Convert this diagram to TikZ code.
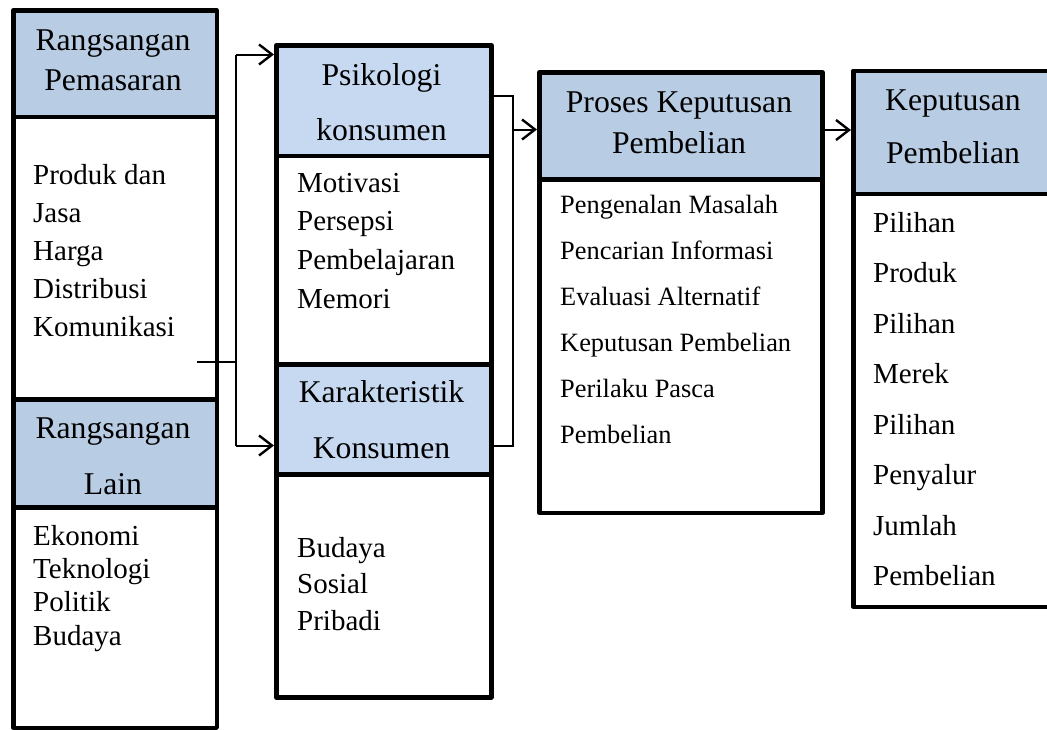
\documentclass[tikz,border=0pt]{standalone}
\usepackage{fontspec}
\setmainfont{Liberation Serif}
\usetikzlibrary{arrows.meta}
\definecolor{hdrA}{HTML}{B8CCE4}
\definecolor{hdrB}{HTML}{C6D9F1}
\begin{document}
\begin{tikzpicture}[x=1pt,y=-1pt,
  boxline/.style={draw=black,line width=4.5pt,line join=round,inner sep=0pt,anchor=north west},
  hdrbox/.style={boxline,fill=hdrA},
  hdrboxlight/.style={boxline,fill=hdrB},
  bodybox/.style={boxline,fill=white},
  conn/.style={draw=black,line width=2pt},
  arr/.style={-{Straight Barb[length=13pt,width=20pt,line width=2.4pt]}},
  htxt/.style={inner sep=0pt,anchor=base,font=\fontsize{31.7}{38}\selectfont},
  btxt/.style={inner sep=0pt,anchor=base west,align=left}
]
\useasboundingbox (0,0) rectangle (1047,729);
\clip (0,0) rectangle (1047,729);

% column 1
\node[bodybox,minimum width=203.5pt,minimum height=282.5pt] (rpB) at (11,114.5) {};
\node[hdrbox,minimum width=203.5pt,minimum height=106.5pt] (rpH) at (11,8) {};
\node[bodybox,minimum width=203.5pt,minimum height=220.5pt] (rlB) at (11,505) {};
\node[hdrbox,minimum width=203.5pt,minimum height=108pt] (rlH) at (11,397) {};

% column 2
\node[bodybox,minimum width=215pt,minimum height=208.5pt] (psB) at (274,153.5) {};
\node[hdrboxlight,minimum width=215pt,minimum height=110.5pt] (psH) at (274,43) {};
\node[bodybox,minimum width=215pt,minimum height=223pt] (kkB) at (274,472) {};
\node[hdrboxlight,minimum width=215pt,minimum height=110pt] (kkH) at (274,362) {};

% column 3
\node[bodybox,minimum width=283pt,minimum height=333.5pt] (pkB) at (537,177) {};
\node[hdrbox,minimum width=283pt,minimum height=107pt] (pkH) at (537,70) {};

% column 4
\node[bodybox,minimum width=209pt,minimum height=413pt] (kpB) at (851,191.5) {};
\node[hdrbox,minimum width=209pt,minimum height=123pt] (kpH) at (851,68.5) {};

% header texts
\node[htxt] (t1a) at (113,50) {Rangsangan};
\node[htxt] (t1b) at (113,90) {Pemasaran};
\node[htxt] (t2a) at (113,438) {Rangsangan};
\node[htxt] (t2b) at (113,494) {Lain};
\node[htxt] (t3a) at (381.5,85) {Psikologi};
\node[htxt] (t3b) at (381.5,140) {konsumen};
\node[htxt] (t4a) at (381.5,402) {Karakteristik};
\node[htxt] (t4b) at (381.5,458) {Konsumen};
\node[htxt] (t5a) at (679,112) {Proses Keputusan};
\node[htxt] (t5b) at (679,153) {Pembelian};
\node[htxt] (t6a) at (953,110) {Keputusan};
\node[htxt] (t6b) at (953,163) {Pembelian};

% body texts (anchored at the baseline of the last line)
\node[btxt,font=\fontsize{29}{38}\selectfont] (b1) at (33,336)
  {Produk dan\\Jasa\\Harga\\Distribusi\\Komunikasi};
\node[btxt,font=\fontsize{29}{33.3}\selectfont] (b2) at (33,645)
  {Ekonomi\\Teknologi\\Politik\\Budaya};
\node[btxt,font=\fontsize{29}{38.6}\selectfont] (b3) at (297,308)
  {Motivasi\\Persepsi\\Pembelajaran\\Memori};
\node[btxt,font=\fontsize{29}{36.5}\selectfont] (b4) at (297,630)
  {Budaya\\Sosial\\Pribadi};
\node[btxt,font=\fontsize{26.4}{46}\selectfont] (b5) at (560,443)
  {Pengenalan Masalah\\Pencarian Informasi\\Evaluasi Alternatif\\Keputusan Pembelian\\Perilaku Pasca\\Pembelian};
\node[btxt,font=\fontsize{29}{50.5}\selectfont] (b6) at (873,585.5)
  {Pilihan\\Produk\\Pilihan\\Merek\\Pilihan\\Penyalur\\Jumlah\\Pembelian};

% connectors
\coordinate (in1) at (197,362);
\coordinate (jm) at (236,362);
\coordinate (jt) at (236,54.5);
\coordinate (jb) at (236,445.5);
\draw[conn] (in1) -- (jm);
\draw[conn] (jt) -- (jb);
\draw[conn,arr] (jt) -- (jt -| psH.west);
\draw[conn,arr] (jb) -- (jb -| kkH.west);

\coordinate (bt) at (513,96);
\coordinate (bb) at (513,445.5);
\coordinate (bm) at (513,129.5);
\draw[conn] (psH.east |- bt) -- (bt) -- (bb) -- (kkH.east |- bb);
\draw[conn,arr] (bm) -- (bm -| pkH.west);

\coordinate (cm) at (820,130);
\draw[conn,arr] (pkH.east |- cm) -- (cm -| kpH.west);
\end{tikzpicture}
\end{document}
